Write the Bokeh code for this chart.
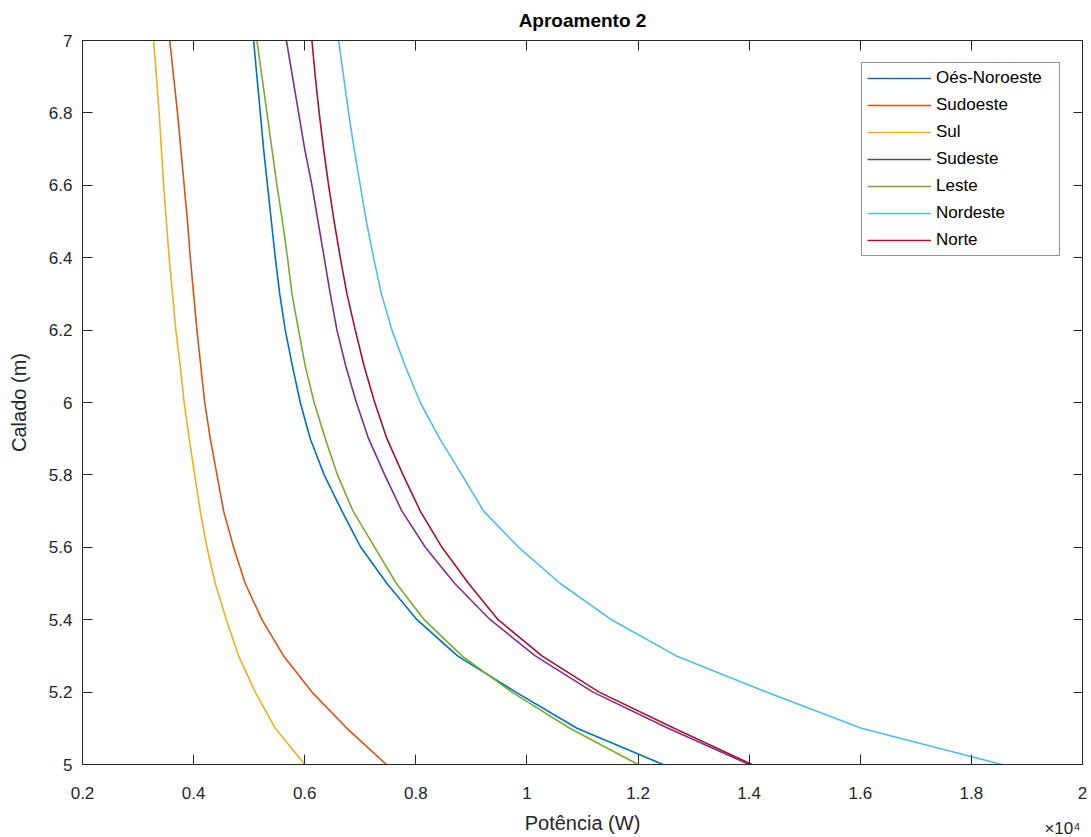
from bokeh.plotting import figure
from bokeh.models import (Range1d, FixedTicker, CustomJSTickFormatter, LinearAxis,
                          Legend, LegendItem)
from bokeh.embed import file_html
from bokeh.resources import INLINE

# Draft (m)
calado = [5.0, 5.1, 5.2, 5.3, 5.4, 5.5, 5.6, 5.7, 5.8, 5.9, 6.0,
          6.1, 6.2, 6.3, 6.4, 6.5, 6.6, 6.7, 6.8, 6.9, 7.0]

# Power (W) per heading
oes_noroeste = [12450, 10900, 9800, 8750, 8020, 7480, 7010, 6670, 6350, 6100, 5920,
                5780, 5650, 5550, 5470, 5400, 5330, 5260, 5200, 5140, 5080]
sudoeste = [7470, 6760, 6130, 5620, 5230, 4930, 4720, 4540, 4420, 4300, 4200,
            4130, 4060, 4000, 3940, 3890, 3830, 3770, 3710, 3640, 3570]
sul = [6000, 5470, 5110, 4810, 4590, 4390, 4240, 4120, 4020, 3920, 3830,
       3760, 3680, 3620, 3560, 3510, 3460, 3420, 3380, 3330, 3280]
sudeste = [14000, 12540, 11190, 10150, 9340, 8700, 8170, 7750, 7440, 7150, 6930,
           6740, 6580, 6460, 6350, 6240, 6130, 6000, 5890, 5780, 5670]
leste = [12000, 10770, 9730, 8830, 8150, 7650, 7260, 6870, 6590, 6370, 6170,
         6010, 5890, 5770, 5690, 5600, 5500, 5410, 5320, 5230, 5140]
nordeste = [18550, 16020, 14310, 12690, 11520, 10600, 9850, 9220, 8830, 8430, 8080,
            7810, 7570, 7380, 7240, 7110, 7000, 6890, 6790, 6700, 6610]
norte = [14050, 12650, 11300, 10270, 9480, 8950, 8470, 8080, 7770, 7480, 7260,
         7070, 6910, 6760, 6640, 6530, 6430, 6340, 6260, 6190, 6130]

names = ["Oés-Noroeste", "Sudoeste", "Sul", "Sudeste", "Leste", "Nordeste", "Norte"]
series = [oes_noroeste, sudoeste, sul, sudeste, leste, nordeste, norte]
colors = ["#0072BD", "#D95319", "#EDB120", "#7E2F8E", "#77AC30", "#4DBEEE", "#A2142F"]

x_ticks = [2000, 4000, 6000, 8000, 10000, 12000, 14000, 16000, 18000, 20000]
y_ticks = [5.0, 5.2, 5.4, 5.6, 5.8, 6.0, 6.2, 6.4, 6.6, 6.8, 7.0]
exp_text = "×10⁴"
exp_pos = 19640  # where the exponent note sits under the axis

FONT = "Liberation Sans"
AX = "#262626"

p = figure(width=1091, height=837, output_backend="svg", toolbar_location=None,
           x_range=Range1d(2000, 20000), y_range=Range1d(5, 7),
           min_border_left=82, min_border_right=9, min_border_top=40, min_border_bottom=73,
           title="Aproamento 2")
p.title.align = "center"
p.title.vertical_align = "top"
p.title.text_font = FONT
p.title.text_font_size = "19px"
p.title.text_font_style = "bold"
p.title.text_color = "#000000"
p.title.offset = 0
p.title.standoff = 16

p.xgrid.visible = False
p.ygrid.visible = False
p.outline_line_color = AX
p.outline_line_width = 1
p.background_fill_color = "white"
p.border_fill_color = "white"

xfmt = CustomJSTickFormatter(
    args=dict(ep=exp_pos, et=exp_text),
    code="if (Math.abs(tick - ep) < 1) { return '\\n' + et; } return String(Math.round(tick/1000)/10);")
yfmt = CustomJSTickFormatter(code="return String(Math.round(tick*10)/10);")
blank = CustomJSTickFormatter(code="return '';")

for ax, fmt, ticks in [(p.xaxis[0], xfmt, x_ticks), (p.yaxis[0], yfmt, y_ticks)]:
    ax.ticker = FixedTicker(ticks=ticks)
    ax.formatter = fmt
    ax.major_tick_in = 10
    ax.major_tick_out = 0
    ax.minor_tick_in = 0
    ax.minor_tick_out = 0
    ax.axis_line_color = AX
    ax.major_tick_line_color = AX
    ax.minor_tick_line_color = AX
    ax.major_label_text_color = AX
    ax.major_label_text_font = FONT
    ax.major_label_text_font_size = "17px"
    ax.axis_label_text_font = FONT
    ax.axis_label_text_font_size = "20px"
    ax.axis_label_text_font_style = "normal"
    ax.axis_label_text_color = AX

# bottom axis: labels on major ticks (incl. exponent note), visible marks via minor ticks
p.xaxis[0].ticker = FixedTicker(ticks=x_ticks + [exp_pos], minor_ticks=x_ticks)
p.xaxis[0].major_tick_in = 0
p.xaxis[0].minor_tick_in = 10
p.xaxis[0].major_label_text_line_height = 1.85

p.xaxis.axis_label = "Potência (W)"
p.yaxis.axis_label = "Calado (m)"
p.xaxis.major_label_standoff = 19
p.yaxis.major_label_standoff = 10
p.xaxis.axis_label_standoff = -29
p.yaxis.axis_label_standoff = 16

top = LinearAxis(ticker=FixedTicker(ticks=x_ticks), formatter=blank,
                 major_tick_in=10, major_tick_out=0, minor_tick_in=0, minor_tick_out=0,
                 axis_line_color=AX, major_tick_line_color=AX,
                 major_label_text_font_size="0px", major_label_standoff=0)
right = LinearAxis(ticker=FixedTicker(ticks=y_ticks), formatter=blank,
                   major_tick_in=9, major_tick_out=0, minor_tick_in=0, minor_tick_out=0,
                   axis_line_color=AX, major_tick_line_color=AX,
                   major_label_text_font_size="0px", major_label_standoff=0)
p.add_layout(top, "above")
p.add_layout(right, "right")

items = []
for name, ys, c in zip(names, series, colors):
    r = p.line(ys, calado, line_color=c, line_width=1.6)
    items.append(LegendItem(label=name, renderers=[r]))

legend = Legend(items=items, location="top_right", margin=22,
                label_text_font=FONT, label_text_font_size="17px", label_text_color="#000000",
                glyph_width=64, glyph_height=20, label_height=20, label_standoff=5,
                label_width=118, spacing=7, padding=5,
                border_line_color=AX, border_line_width=1,
                background_fill_alpha=1.0)
p.add_layout(legend)

open("out.html", "w").write(file_html(p, INLINE))
